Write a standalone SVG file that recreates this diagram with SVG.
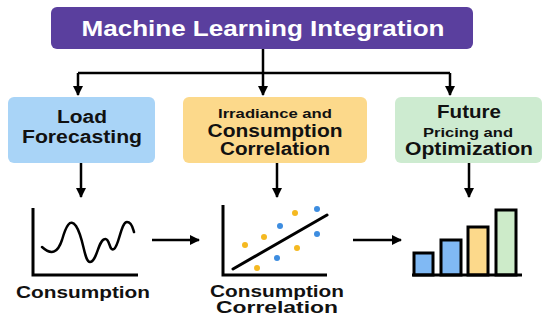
<svg xmlns="http://www.w3.org/2000/svg" width="550" height="325" viewBox="0 0 550 325">
<defs>
<style>
text{font-family:"Liberation Sans",Arial,sans-serif;font-weight:bold;text-anchor:middle;fill:#111}
.line{stroke:#000;stroke-width:2.5;fill:none}
.ax{stroke:#000;stroke-width:3;fill:none}
.bar{stroke:#000;stroke-width:3}
</style>
<marker id="ah" viewBox="0 0 10 10" refX="9" refY="5" markerWidth="4" markerHeight="4" orient="auto" markerUnits="strokeWidth">
<path d="M0,0 L10,5 L0,10 z" fill="#000"/>
</marker>
</defs>
<rect width="550" height="325" fill="#fff"/>
<g id="title">
<rect x="51" y="7" width="422" height="42" rx="6" fill="#5a3f9e"/>
<text x="263" y="36" font-size="22" fill="#fff" style="fill:#fff" textLength="363" lengthAdjust="spacingAndGlyphs">Machine Learning Integration</text>
</g>
<g id="connectors">
<path class="line" d="M263,49 V73"/>
<path class="line" d="M78,73 H450"/>
<path class="line" d="M78,73 V95" marker-end="url(#ah)"/>
<path class="line" d="M263,73 V95" marker-end="url(#ah)"/>
<path class="line" d="M450,73 V95" marker-end="url(#ah)"/>
<path class="line" d="M81,163 V197" marker-end="url(#ah)"/>
<path class="line" d="M277,163 V197" marker-end="url(#ah)"/>
<path class="line" d="M469,163 V197" marker-end="url(#ah)"/>
<path class="line" d="M152,240 H199" marker-end="url(#ah)"/>
<path class="line" d="M353,240 H401" marker-end="url(#ah)"/>
</g>
<g id="load-forecasting">
<rect x="8" y="97" width="147" height="66" rx="6" fill="#a9d4f7"/>
<text x="82" y="123" font-size="18" textLength="50" lengthAdjust="spacingAndGlyphs">Load</text>
<text x="82" y="143" font-size="18" textLength="120" lengthAdjust="spacingAndGlyphs">Forecasting</text>
</g>
<g id="irradiance">
<rect x="183" y="97" width="184" height="66" rx="6" fill="#fcd98b"/>
<text x="275" y="118" font-size="13" textLength="114" lengthAdjust="spacingAndGlyphs">Irradiance and</text>
<text x="275" y="137" font-size="18" textLength="135" lengthAdjust="spacingAndGlyphs">Consumption</text>
<text x="275" y="155" font-size="18" textLength="110" lengthAdjust="spacingAndGlyphs">Correlation</text>
</g>
<g id="future">
<rect x="395" y="97" width="147" height="66" rx="6" fill="#cdebd0"/>
<text x="469" y="118" font-size="18" textLength="64" lengthAdjust="spacingAndGlyphs">Future</text>
<text x="468" y="137" font-size="13" textLength="90" lengthAdjust="spacingAndGlyphs">Pricing and</text>
<text x="469" y="155" font-size="18" textLength="128" lengthAdjust="spacingAndGlyphs">Optimization</text>
</g>
<g id="consumption-chart">
<path class="ax" d="M33,208 V275 H138"/>
<path d="M42,247 C52,256 58,252 62,240 C66,226 70,218 76,226 C84,238 84,262 90,262 C97,262 98,240 105,239 C110,238 109,252 114,249 C119,246 121,222 127,222 C132,222 133,229 134,232" fill="none" stroke="#000" stroke-width="2.5" stroke-linecap="round"/>
<text x="83" y="298" font-size="17" textLength="134" lengthAdjust="spacingAndGlyphs">Consumption</text>
</g>
<g id="correlation-chart">
<path class="ax" d="M223,205 V275 H327"/>
<path d="M233,269 L327,215" stroke="#000" stroke-width="3" stroke-linecap="round"/>
<g fill="#f5b921">
<circle cx="245" cy="245" r="3"/>
<circle cx="264" cy="237" r="3"/>
<circle cx="295" cy="213" r="3"/>
<circle cx="297" cy="248" r="3"/>
<circle cx="257" cy="268" r="3"/>
</g>
<g fill="#3d8de0">
<circle cx="317" cy="209" r="3"/>
<circle cx="280" cy="226" r="3"/>
<circle cx="317" cy="234" r="3"/>
<circle cx="277" cy="258" r="3"/>
</g>
<text x="277" y="297" font-size="17" font-weight="600" style="font-weight:600" textLength="134" lengthAdjust="spacingAndGlyphs">Consumption</text>
<text x="277" y="313" font-size="17" style="font-weight:600" textLength="122" lengthAdjust="spacingAndGlyphs">Correlation</text>
</g>
<g id="bar-chart">
<rect class="bar" x="414" y="253" width="19" height="22" fill="#80b9f4"/>
<rect class="bar" x="441" y="240" width="20" height="35" fill="#80b9f4"/>
<rect class="bar" x="468" y="227" width="20" height="48" fill="#fcd98b"/>
<rect class="bar" x="496" y="210" width="20" height="65" fill="#cdebc9"/>
<path class="ax" d="M412,275 H522"/>
</g>
</svg>
